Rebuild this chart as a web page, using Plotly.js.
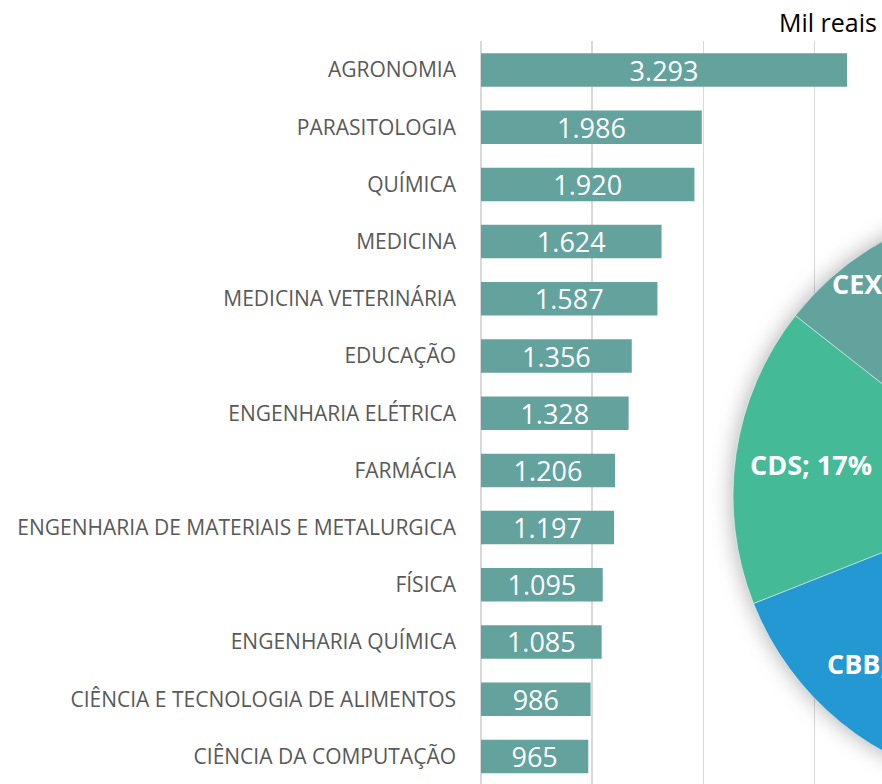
<!DOCTYPE html>
<html>
<head>
<meta charset="utf-8">
<script src="https://cdn.plot.ly/plotly-3.0.1.min.js"></script>
<style>
  html, body { margin: 0; padding: 0; background: #ffffff; overflow: hidden; }
  #chart { width: 1400px; height: 800px; }
  .pielayer .trace { filter: drop-shadow(0px 0px 11px rgba(0,0,0,0.33)); }
</style>
</head>
<body>
<div id="chart"></div>
<script>
// ---- Data ----
const cursos = [
  "AGRONOMIA",
  "PARASITOLOGIA",
  "QUÍMICA",
  "MEDICINA",
  "MEDICINA VETERINÁRIA",
  "EDUCAÇÃO",
  "ENGENHARIA ELÉTRICA",
  "FARMÁCIA",
  "ENGENHARIA DE MATERIAIS E METALURGICA",
  "FÍSICA",
  "ENGENHARIA QUÍMICA",
  "CIÊNCIA E TECNOLOGIA DE ALIMENTOS",
  "CIÊNCIA DA COMPUTAÇÃO"
];
const valoresMilReais = [3293, 1986, 1920, 1624, 1587, 1356, 1328, 1206, 1197, 1095, 1085, 986, 965];

// Pie (only its left part is visible; hidden slices are estimates)
const areas = ["CAG", "ENG", "CHU", "CSA", "CBB", "CDS", "CEX", "LLA"];
const areaShares = [24.0, 14.5, 9.0, 5.3, 16.2, 16.6, 11.0, 3.4];
const areaColors = ["#5B9BD5", "#A5A5A5", "#FFC000", "#4472C4", "#2398D3", "#44BA97", "#63A39E", "#70AD47"];

const unidade = "Mil reais";

// ---- Geometry (figure larger than the window; right part is cropped) ----
const W = 1400, H = 800;
const px = v => v / W;
const py = v => (H - v) / H;

// pie placement in pixels (from top-left)
const pieBox = { x0: 733, x1: 1317, y0: 204, y1: 788 };
const labelRadiusDefault = 0.74;
const labelRadiusSpecial = { CEX: 0.86 };

const barTrace = {
  type: "bar",
  orientation: "h",
  y: cursos,
  x: valoresMilReais,
  width: 0.585,
  marker: { color: "#64A29E" },
  texttemplate: "%{x:,}",
  textposition: "inside",
  insidetextanchor: "middle",
  textangle: 0,
  constraintext: "none",
  textfont: { family: "Open Sans", size: 27, color: "#ffffff" },
  hoverinfo: "skip",
  xaxis: "x", yaxis: "y"
};

const pieTrace = {
  type: "pie",
  labels: areas,
  values: areaShares,
  sort: false,
  direction: "clockwise",
  rotation: 0,
  marker: { colors: areaColors, line: { color: "rgba(255,255,255,0.6)", width: 0.8 } },
  textinfo: "none",
  domain: { x: [px(pieBox.x0), px(pieBox.x1)], y: [py(pieBox.y1), py(pieBox.y0)] },
  hoverinfo: "skip",
  showlegend: false
};

// pie labels "AREA; NN%" placed along each slice's mid-angle
const total = areaShares.reduce((a, b) => a + b, 0);
const cx = (pieBox.x0 + pieBox.x1) / 2, cy = (pieBox.y0 + pieBox.y1) / 2;
const R = (pieBox.x1 - pieBox.x0) / 2;
let cum = 0;
const pieLabels = areas.map((a, i) => {
  const mid = (cum + areaShares[i] / 2) / total * 2 * Math.PI;
  cum += areaShares[i];
  const f = labelRadiusSpecial[a] || labelRadiusDefault;
  const lx = cx + f * R * Math.sin(mid);
  const ly = cy - f * R * Math.cos(mid);
  return {
    text: a + "; " + Math.round(areaShares[i] / total * 100) + "%",
    xref: "paper", yref: "paper",
    x: px(lx), y: py(ly),
    xanchor: "center", yanchor: "middle",
    showarrow: false,
    font: { family: "Open Sans", size: 27, color: "#ffffff", weight: "bold" }
  };
});

const layout = {
  width: W,
  height: H,
  margin: { l: 0, r: 0, t: 0, b: 0 },
  paper_bgcolor: "#ffffff",
  plot_bgcolor: "#ffffff",
  separators: ",.",
  showlegend: false,
  xaxis: {
    domain: [px(481), px(882)],
    range: [0, 3607],
    dtick: 1000,
    tick0: 0,
    showticklabels: false,
    showgrid: true,
    gridcolor: "#d9d9d9",
    gridwidth: 1.5,
    zeroline: true,
    zerolinecolor: "#d9d9d9",
    zerolinewidth: 1.5,
    showline: false,
    fixedrange: true
  },
  yaxis: {
    domain: [py(785), py(41.4)],
    type: "category",
    categoryorder: "array",
    categoryarray: cursos,
    range: [12.5, -0.5],
    showgrid: false,
    zeroline: false,
    showline: false,
    ticks: "",
    ticklabelstandoff: 24,
    tickfont: { family: "Open Sans", size: 21, color: "#595959" },
    fixedrange: true
  },
  annotations: [
    {
      text: unidade,
      xref: "paper", yref: "paper",
      x: px(879), y: py(22),
      xanchor: "right", yanchor: "middle",
      showarrow: false,
      font: { family: "Open Sans", size: 25, color: "#000000" }
    }
  ].concat(pieLabels)
};

Plotly.newPlot("chart", [barTrace, pieTrace], layout, { staticPlot: true, displayModeBar: false });
</script>
</body>
</html>
